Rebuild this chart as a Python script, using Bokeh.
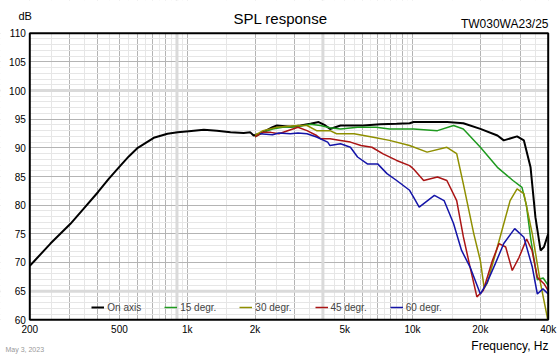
import math
from bokeh.plotting import figure
from bokeh.models import FixedTicker, Span, Label, Legend, LegendItem, Range1d
from bokeh.embed import file_html
from bokeh.resources import INLINE

# ---------------- data ----------------
on_f = [200, 210, 247, 303, 347, 402, 448, 497, 550, 603, 710, 817, 906, 1016, 1184, 1354,
        1556, 1780, 1905, 1970, 2100, 2390, 2500, 2870, 3180, 3520, 3830, 4100, 4300, 4790,
        5300, 6050, 7200, 8500, 9700, 10100, 14250, 16800, 20000, 23800, 25400, 29100,
        31200, 33400, 35100, 37000, 38300, 40000]
on_db = [69.4, 70.3, 73.3, 76.75, 79.4, 82.3, 84.6, 86.6, 88.5, 90.0, 91.75, 92.45, 92.7, 92.9,
         93.15, 93.0, 92.7, 92.6, 92.7, 92.15, 92.45, 93.6, 93.9, 93.7, 93.9, 94.2, 94.5, 93.9,
         93.3, 93.9, 93.9, 93.9, 94.1, 94.2, 94.3, 94.5, 94.5, 94.3, 93.3, 92.15, 91.3, 92.0,
         91.3, 86.6, 77.9, 72.1, 72.7, 75.0]

d15_f = [2000, 2170, 2390, 2650, 3100, 3520, 3900, 4300, 4790, 5700, 6900, 7900, 9500, 10100,
         12900, 15200, 16800, 20000, 23800, 27900, 30600, 32000, 33500, 35800, 38000, 40000]
d15_db = [91.9, 92.7, 93.3, 93.6, 93.7, 94.1, 93.9, 93.5, 93.3, 93.6, 93.6, 93.3, 93.3, 93.3,
          93.0, 93.9, 93.3, 90.1, 86.6, 84.3, 83.1, 80.0, 74.0, 67.0, 67.3, 66.0]

d30_f = [2000, 2170, 2500, 3100, 3400, 3750, 4300, 4600, 5500, 6600, 7900, 9700, 11600, 14200,
         15700, 16800, 18700, 20000, 20800, 21500, 24700, 27100, 29100, 31200, 34000, 37000,
         39600, 40000]
d30_db = [92.2, 93.0, 93.6, 93.9, 93.9, 93.0, 93.0, 92.45, 92.45, 91.9, 91.3, 90.4, 89.25, 90.1,
          89.0, 83.7, 75.0, 70.3, 65.5, 66.5, 75.0, 80.8, 82.85, 82.0, 75.0, 66.3, 60.5, 59.0]

d45_f = [2000, 2170, 2350, 2550, 3100, 3400, 3750, 3900, 4300, 4790, 5300, 5900, 6600, 7400,
         8500, 9700, 10100, 11200, 12900, 14200, 15700, 16800, 18000, 19300, 20600, 22600,
         24200, 25900, 27700, 29700, 32100, 33900, 35800, 38300, 40000]
d45_db = [91.9, 92.7, 92.7, 92.45, 93.6, 93.0, 92.15, 91.6, 91.6, 91.3, 91.0, 90.4, 90.1, 88.95,
          87.8, 86.9, 86.3, 84.3, 84.9, 84.3, 80.8, 74.5, 69.2, 64.0, 65.1, 70.3, 73.3, 72.7,
          68.6, 70.9, 74.1, 72.1, 67.4, 66.3, 65.1]

d60_f = [2100, 2390, 2550, 2870, 3100, 3400, 3750, 4200, 4300, 4790, 5300, 5700, 6300, 7000,
         7700, 8500, 9700, 10100, 10700, 12500, 13800, 15200, 16500, 18000, 20000, 21300,
         23300, 25400, 28400, 31200, 34000, 35800, 37900, 40000]
d60_db = [92.45, 92.3, 92.6, 92.45, 92.6, 92.45, 91.9, 91.0, 90.4, 90.7, 90.1, 88.4, 87.2, 87.2,
          85.5, 84.3, 82.6, 81.4, 79.65, 81.7, 80.8, 76.8, 72.1, 69.2, 64.5, 66.3, 69.8, 73.3,
          75.9, 74.4, 69.2, 64.5, 65.4, 64.5]

series_names = ["On axis", "15 degr.", "30 degr.", "45 degr.", "60 degr."]
series_colors = ["#000000", "#1f9a1f", "#8f8f00", "#aa1414", "#1414a8"]

x_lo, x_hi = 200, 40000
y_lo, y_hi = 60, 110
x_label_ticks = [200, 500, 1000, 2000, 5000, 10000, 20000, 40000]
x_label_text = ["200", "500", "1k", "2k", "5k", "10k", "20k", "40k"]
x_grid_major = ([200, 300, 400, 500, 600, 700, 800, 900, 1000, 2000, 3000, 4000, 5000, 6000,
                 7000, 8000, 9000, 10000, 20000, 30000, 40000])
x_grid_minor = ([250, 350, 450, 550, 650, 750, 850, 950, 1500, 2500, 3500, 4500, 5500, 6500,
                 7500, 8500, 9500, 15000, 25000, 35000])
y_ticks = [60, 65, 70, 75, 80, 85, 90, 95, 100, 105, 110]
y_minor = [v for v in range(60, 111) if v % 5]
marker_x = [900, 4000]
marker_y = [100, 65]

FONT = "Liberation Sans"
W, H = 560, 356
# plot-area edges in pixels (left, right, top, bottom)
PL, PR, PT, PB = 29.3, 547.7, 32.7, 319.3

k = math.log10(x_hi / x_lo) / (PR - PL)
x_start = 10 ** (math.log10(x_lo) - PL * k)
x_end = 10 ** (math.log10(x_hi) + (W - PR) * k)
py = (PB - PT) / (y_hi - y_lo)
y_start = y_lo - (H - PB) / py
y_end = y_hi + PT / py

p = figure(width=W, height=H, x_axis_type="log",
           x_range=Range1d(x_start, x_end), y_range=Range1d(y_start, y_end),
           output_backend="svg", toolbar_location=None,
           min_border_left=0, min_border_right=0, min_border_top=0, min_border_bottom=0)
p.background_fill_color = "white"
p.border_fill_color = "white"
p.outline_line_color = None

# axes pinned to the plot-area edges
p.xaxis.fixed_location = y_lo
p.yaxis.fixed_location = x_lo
for ax in (p.xaxis[0], p.yaxis[0]):
    ax.axis_line_color = None
    ax.major_tick_line_color = None
    ax.minor_tick_line_color = None
    ax.major_tick_out = 0
    ax.major_tick_in = 0
    ax.major_label_text_font = FONT
    ax.major_label_text_font_size = "10px"
    ax.major_label_text_color = "#000000"
    ax.major_label_standoff = 4
p.xaxis.ticker = FixedTicker(ticks=x_label_ticks)
p.xaxis.major_label_overrides = {t: s for t, s in zip(x_label_ticks, x_label_text)}
p.yaxis.ticker = FixedTicker(ticks=y_ticks)

# grids
p.xgrid.ticker = FixedTicker(ticks=x_grid_major, minor_ticks=x_grid_minor)
p.ygrid.ticker = FixedTicker(ticks=y_ticks, minor_ticks=y_minor)
for g in (p.xgrid[0], p.ygrid[0]):
    g.grid_line_color = "#b4b4b4"
    g.grid_line_width = 1
    g.minor_grid_line_color = "#e6e6e6"
    g.minor_grid_line_width = 1

for xv in marker_x:
    p.add_layout(Span(location=xv, dimension="height", line_color="#dadada",
                      line_width=3, level="underlay"))
for yv in marker_y:
    p.add_layout(Span(location=yv, dimension="width", line_color="#dadada",
                      line_width=3, level="underlay"))

data = [(on_f, on_db), (d15_f, d15_db), (d30_f, d30_db), (d45_f, d45_db), (d60_f, d60_db)]
items = []
for (fx, dy), name, col in zip(data, series_names, series_colors):
    r = p.line(fx, dy, line_color=col, line_width=2 if name == "On axis" else 1.5)
    items.append(LegendItem(label=name, renderers=[r]))

# white margins outside the plot area (hide grid / clipped curves)
p.quad(left=[x_start, x_hi, x_start, x_start], right=[x_lo, x_end, x_end, x_end],
       bottom=[y_start, y_start, y_start, y_hi], top=[y_end, y_end, y_lo, y_end],
       fill_color="white", line_color=None)
# plot-area border
p.quad(left=[x_lo], right=[x_hi], bottom=[y_lo], top=[y_hi],
       fill_color=None, line_color="black", line_width=2)

legend = Legend(items=items, orientation="horizontal", location=(PL + 62, H - PB + 6),
                label_text_font=FONT, label_text_font_size="10px",
                glyph_width=13, glyph_height=12, label_height=12, label_standoff=3,
                spacing=23, padding=2, margin=0,
                background_fill_color="white", background_fill_alpha=0.0,
                border_line_color=None)
p.add_layout(legend, "center")

def txt(x, y, s, size, align="left", color="#000000"):
    p.add_layout(Label(x=x, y=y, x_units="canvas", y_units="canvas", text=s,
                       text_font=FONT, text_font_size=size, text_align=align,
                       text_baseline="alphabetic", text_color=color))

txt(280, 18, "SPL response", "15px", "center")
txt(18, 15, "dB", "11px")
txt(548, 23, "TW030WA23/25", "12px", "right")
txt(548, 345, "Frequency, Hz", "12px", "right")
txt(5, 349, "May 3, 2023", "7px", "left", "#999999")

open("out.html", "w").write(file_html(p, INLINE))
